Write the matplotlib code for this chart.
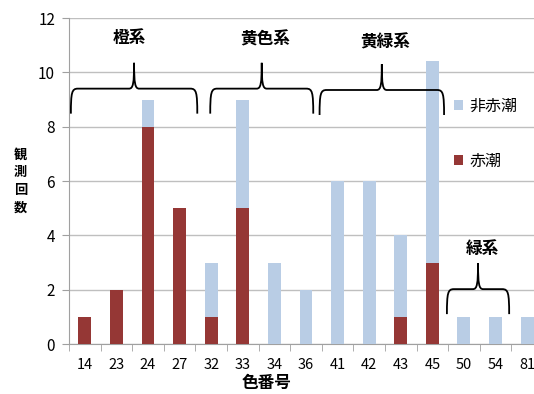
import numpy as np
import matplotlib as mpl
mpl.use('Agg')
import matplotlib.pyplot as plt
from matplotlib.path import Path
from matplotlib.patches import PathPatch

plt.rcParams['font.family'] = ['Noto Sans CJK JP', 'DejaVu Sans']

# data
color_codes = ['14', '23', '24', '27', '32', '33', '34', '36',
               '41', '42', '43', '45', '50', '54', '81']
akashio = [1, 2, 8, 5, 1, 5, 0, 0, 0, 0, 1, 3, 0, 0, 0]
non_akashio = [0, 0, 1, 0, 2, 4, 3, 2, 6, 6, 3, 7.4, 1, 1, 1]

# colour groups and where their braces / labels sit (category index, count)
groups = ['橙系', '黄色系', '黄緑系', '緑系']
group_span = [(-0.44, 3.56), (3.97, 7.23), (7.43, 11.37), (11.46, 13.43)]
group_brace_y = [9.4, 9.4, 9.35, 2.02]
group_label_x = [1.42, 5.72, 9.52, 12.57]
group_label_y = [11.25, 11.2, 11.1, 3.5]

RED = '#953735'
BLUE = '#B9CDE5'
GRID = '#BFBFBF'

fig = plt.figure(figsize=(5.34, 3.94), dpi=100)
ax = fig.add_axes([0.1292, 0.1269, 0.8876, 0.8274])

x = np.arange(len(color_codes))
w = 0.41
ax.bar(x, akashio, w, color=RED, label='赤潮', zorder=3)
ax.bar(x, non_akashio, w, bottom=akashio, color=BLUE, label='非赤潮', zorder=3)

ax.set_xlim(-0.5, len(color_codes) - 0.5)
ax.set_ylim(0, 12)
ax.set_yticks(range(0, 13, 2))
ax.set_xticks(x)
ax.set_xticklabels(color_codes)
ax.set_xticks(np.arange(-0.5, len(color_codes), 1), minor=True)
ax.tick_params(axis='x', which='major', length=0, pad=10, labelsize=10.5)
ax.tick_params(axis='x', which='minor', length=5, color='#A0A0A0', direction='out')
ax.tick_params(axis='y', length=5, color='#A0A0A0', pad=5, labelsize=11)
ax.grid(axis='y', color=GRID, linewidth=1.0, zorder=0)
for s in ['top', 'right']:
    ax.spines[s].set_visible(False)
for s in ['left', 'bottom']:
    ax.spines[s].set_color('#A0A0A0')


def brace(ax, x0, x1, yb, height, drop):
    xc = (x0 + x1) / 2
    ye = yb - drop
    yt = yb + height
    dx = 0.22
    dt = 0.16
    verts = [(x0, ye), (x0, yb - drop * 0.15), (x0 + 0.03, yb), (x0 + dx, yb),
             (xc - dt, yb),
             (xc - 0.03, yb), (xc, yb + height * 0.2), (xc, yt),
             (xc, yb + height * 0.2), (xc + 0.03, yb), (xc + dt, yb),
             (x1 - dx, yb),
             (x1 - 0.03, yb), (x1, yb - drop * 0.15), (x1, ye)]
    codes = [Path.MOVETO, Path.CURVE4, Path.CURVE4, Path.CURVE4,
             Path.LINETO,
             Path.CURVE4, Path.CURVE4, Path.CURVE4,
             Path.CURVE4, Path.CURVE4, Path.CURVE4,
             Path.LINETO,
             Path.CURVE4, Path.CURVE4, Path.CURVE4]
    ax.add_patch(PathPatch(Path(verts, codes), fill=False, color='black',
                           linewidth=1.3, zorder=4))


for (a, b), yb in zip(group_span, group_brace_y):
    brace(ax, a, b, yb, 0.95, 0.92)
for name, xl, yl in zip(groups, group_label_x, group_label_y):
    ax.text(xl, yl, name, ha='center', va='center',
            fontsize=12, fontweight='bold', zorder=5)

handles, labels = ax.get_legend_handles_labels()
ax.legend(handles[::-1], labels[::-1], loc='upper left',
          bbox_to_anchor=(0.783, 0.80), frameon=False, fontsize=11.5,
          handlelength=0.55, handleheight=0.55, handletextpad=0.4,
          labelspacing=2.4)

fig.text(0.038, 0.54, '観\n測\n回\n数', ha='center', va='center',
         fontsize=9.5, fontweight='bold', linespacing=1.35)
fig.text(0.5, 0.005, '色番号', ha='center', va='bottom',
         fontsize=12, fontweight='bold')

fig.savefig('out.png', dpi=100)
